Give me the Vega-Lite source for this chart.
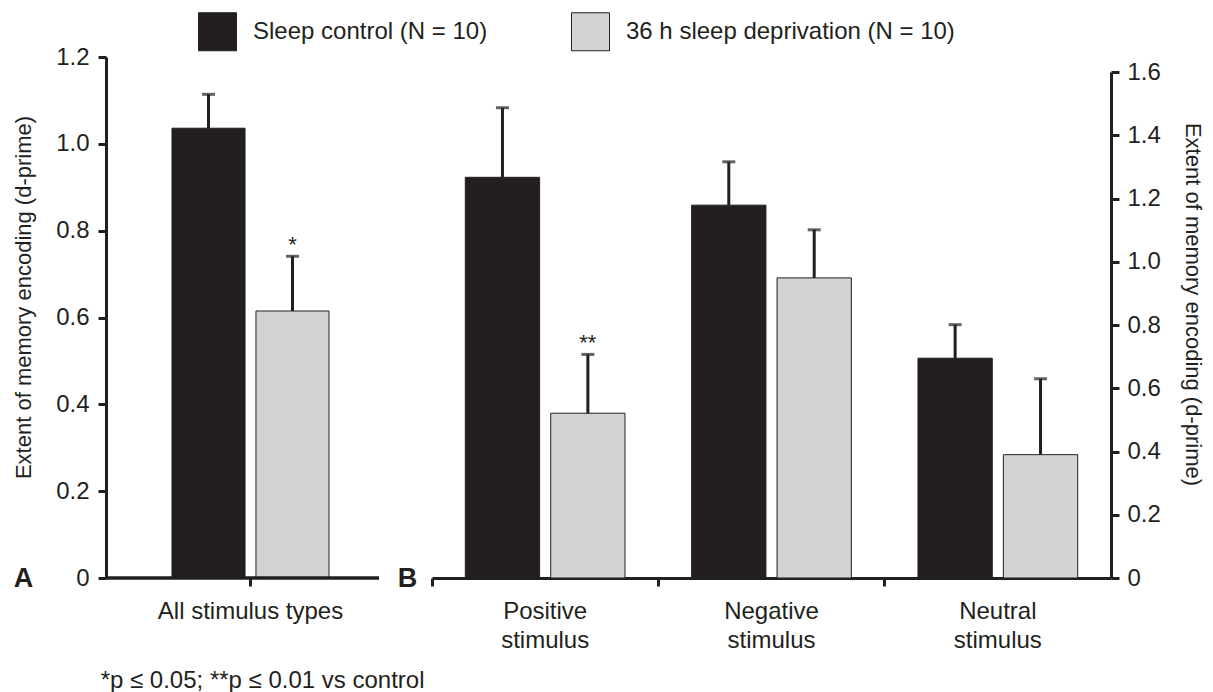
{
  "$schema": "https://vega.github.io/schema/vega-lite/v6.json",
  "background": "white",
  "padding": {"left": 12, "top": 12, "right": 5, "bottom": 0},
  "config": {
    "font": "Liberation Sans",
    "view": {"stroke": null},
    "concat": {"spacing": 2},
    "axis": {
      "grid": false,
      "domainColor": "#231f20", "domainWidth": 3,
      "tickColor": "#231f20", "tickWidth": 3, "tickSize": 8,
      "labelFont": "Liberation Sans", "labelFontSize": 24, "labelColor": "#231f20", "labelLimit": 400,
      "titleFont": "Liberation Sans", "titleFontSize": 22, "titleFontWeight": "normal", "titleColor": "#231f20"
    },
    "legend": {
      "title": null,
      "symbolType": "square", "symbolSize": 1444,
      "symbolStrokeColor": "#231f20", "symbolStrokeWidth": 1,
      "labelFont": "Liberation Sans", "labelFontSize": 24, "labelColor": "#231f20", "labelLimit": 500,
      "labelOffset": 16, "columnPadding": 81, "direction": "horizontal"
    }
  },
  "title": {
    "text": "*p ≤ 0.05; **p ≤ 0.01 vs control",
    "orient": "bottom", "anchor": "start", "fontSize": 24, "fontWeight": "normal",
    "color": "#231f20", "offset": 17, "dx": 88
  },
  "resolve": {"scale": {"xOffset": "independent"}},
  "datasets": {
    "panelA": [
      {"stimulus": "All stimulus types", "group": "Sleep control (N = 10)", "value": 1.036, "upper": 1.114, "sig": ""},
      {"stimulus": "All stimulus types", "group": "36 h sleep deprivation (N = 10)", "value": 0.615, "upper": 0.741, "sig": "*"}
    ],
    "panelB": [
      {"stimulus": "Positive stimulus", "group": "Sleep control (N = 10)", "value": 1.267, "upper": 1.487, "sig": ""},
      {"stimulus": "Positive stimulus", "group": "36 h sleep deprivation (N = 10)", "value": 0.521, "upper": 0.707, "sig": "**"},
      {"stimulus": "Negative stimulus", "group": "Sleep control (N = 10)", "value": 1.179, "upper": 1.316, "sig": ""},
      {"stimulus": "Negative stimulus", "group": "36 h sleep deprivation (N = 10)", "value": 0.949, "upper": 1.101, "sig": ""},
      {"stimulus": "Neutral stimulus", "group": "Sleep control (N = 10)", "value": 0.695, "upper": 0.801, "sig": ""},
      {"stimulus": "Neutral stimulus", "group": "36 h sleep deprivation (N = 10)", "value": 0.390, "upper": 0.630, "sig": ""}
    ]
  },
  "hconcat": [
    {
      "width": 273,
      "height": 521,
      "data": {"name": "panelA"},
      "layer": [
        {
          "mark": {"type": "bar", "stroke": "#231f20", "strokeWidth": 1},
          "encoding": {
            "x": {"field": "stimulus", "type": "nominal", "scale": {"range": [0, 289], "paddingInner": 0, "paddingOuter": 0},
                  "axis": {"domain": false, "labelAngle": 0, "labelPadding": 13, "title": "A", "titleX": -83, "titleY": 0,
                           "titleFontSize": 27, "titleFontWeight": "bold", "titleBaseline": "middle", "titleAlign": "center", "titleAngle": 0}},
            "xOffset": {"field": "group", "type": "nominal", "sort": ["Sleep control (N = 10)", "36 h sleep deprivation (N = 10)"],
                        "scale": {"paddingInner": 0.13, "paddingOuter": 0.786}},
            "y": {"field": "value", "type": "quantitative", "title": "Extent of memory encoding (d-prime)",
                  "scale": {"domain": [0, 1.2], "nice": false},
                  "axis": {"values": [0, 0.2, 0.4, 0.6, 0.8, 1.0, 1.2], "labelExpr": "datum.value == 0 ? '0' : format(datum.value, '.1f')",
                           "labelPadding": 9, "titlePadding": 20, "titleY": 240}},
            "color": {"field": "group", "type": "nominal",
                      "scale": {"domain": ["Sleep control (N = 10)", "36 h sleep deprivation (N = 10)"], "range": ["#231f20", "#d1d3d4"]},
                      "legend": {"orient": "none", "legendX": 92, "legendY": -45}}
          }
        },
        {
          "mark": {"type": "rule", "strokeWidth": 3, "color": "#231f20"},
          "encoding": {
            "x": {"field": "stimulus", "type": "nominal"},
            "xOffset": {"field": "group", "type": "nominal", "sort": ["Sleep control (N = 10)", "36 h sleep deprivation (N = 10)"]},
            "y": {"field": "value", "type": "quantitative", "title": "Extent of memory encoding (d-prime)"},
            "y2": {"field": "upper"}
          }
        },
        {
          "mark": {"type": "tick", "thickness": 3, "size": 13, "color": "#231f20", "orient": "horizontal"},
          "encoding": {
            "x": {"field": "stimulus", "type": "nominal"},
            "xOffset": {"field": "group", "type": "nominal", "sort": ["Sleep control (N = 10)", "36 h sleep deprivation (N = 10)"]},
            "y": {"field": "upper", "type": "quantitative", "title": "Extent of memory encoding (d-prime)"}
          }
        },
        {
          "mark": {"type": "text", "fontSize": 22, "baseline": "alphabetic", "dy": -4, "color": "#231f20"},
          "encoding": {
            "x": {"field": "stimulus", "type": "nominal"},
            "xOffset": {"field": "group", "type": "nominal", "sort": ["Sleep control (N = 10)", "36 h sleep deprivation (N = 10)"]},
            "y": {"field": "upper", "type": "quantitative", "title": "Extent of memory encoding (d-prime)"},
            "text": {"field": "sig"}
          }
        },
        {
          "mark": {"type": "rule", "strokeWidth": 3, "color": "#231f20"},
          "encoding": {
            "y": {"datum": 0, "type": "quantitative", "title": "Extent of memory encoding (d-prime)"}
          }
        }
      ]
    },
    {
      "width": 679,
      "height": 521,
      "data": {"name": "panelB"},
      "layer": [
        {
          "mark": {"type": "bar", "stroke": "#231f20", "strokeWidth": 1},
          "encoding": {
            "x": {"field": "stimulus", "type": "nominal", "sort": ["Positive stimulus", "Negative stimulus", "Neutral stimulus"],
                  "scale": {"paddingInner": 0, "paddingOuter": 0},
                  "axis": {"labelAngle": 0, "labelPadding": 13, "bandPosition": 0, "labelExpr": "split(datum.label, ' ')", "labelLineHeight": 29,
                           "title": "B", "titleX": -25, "titleY": 0,
                           "titleFontSize": 27, "titleFontWeight": "bold", "titleBaseline": "middle", "titleAlign": "center", "titleAngle": 0}},
            "xOffset": {"field": "group", "type": "nominal", "sort": ["Sleep control (N = 10)", "36 h sleep deprivation (N = 10)"],
                        "scale": {"paddingInner": 0.13, "paddingOuter": 0.39}},
            "y": {"field": "value", "type": "quantitative", "title": "Extent of memory encoding (d-prime)",
                  "scale": {"domain": [0, 1.6], "nice": false, "range": [521, 15]},
                  "axis": {"orient": "right", "values": [0, 0.2, 0.4, 0.6, 0.8, 1.0, 1.2, 1.4, 1.6],
                           "labelExpr": "datum.value == 0 ? '0' : format(datum.value, '.1f')",
                           "labelPadding": 8, "titlePadding": 20, "titleY": 247}},
            "color": {"field": "group", "type": "nominal",
                      "scale": {"domain": ["Sleep control (N = 10)", "36 h sleep deprivation (N = 10)"], "range": ["#231f20", "#d1d3d4"]}}
          }
        },
        {
          "mark": {"type": "rule", "strokeWidth": 3, "color": "#231f20"},
          "encoding": {
            "x": {"field": "stimulus", "type": "nominal", "sort": ["Positive stimulus", "Negative stimulus", "Neutral stimulus"]},
            "xOffset": {"field": "group", "type": "nominal", "sort": ["Sleep control (N = 10)", "36 h sleep deprivation (N = 10)"]},
            "y": {"field": "value", "type": "quantitative", "title": "Extent of memory encoding (d-prime)"},
            "y2": {"field": "upper"}
          }
        },
        {
          "mark": {"type": "tick", "thickness": 3, "size": 13, "color": "#231f20", "orient": "horizontal"},
          "encoding": {
            "x": {"field": "stimulus", "type": "nominal", "sort": ["Positive stimulus", "Negative stimulus", "Neutral stimulus"]},
            "xOffset": {"field": "group", "type": "nominal", "sort": ["Sleep control (N = 10)", "36 h sleep deprivation (N = 10)"]},
            "y": {"field": "upper", "type": "quantitative", "title": "Extent of memory encoding (d-prime)"}
          }
        },
        {
          "mark": {"type": "text", "fontSize": 22, "baseline": "alphabetic", "dy": -4, "color": "#231f20"},
          "encoding": {
            "x": {"field": "stimulus", "type": "nominal", "sort": ["Positive stimulus", "Negative stimulus", "Neutral stimulus"]},
            "xOffset": {"field": "group", "type": "nominal", "sort": ["Sleep control (N = 10)", "36 h sleep deprivation (N = 10)"]},
            "y": {"field": "upper", "type": "quantitative", "title": "Extent of memory encoding (d-prime)"},
            "text": {"field": "sig"}
          }
        }
      ]
    }
  ]
}
